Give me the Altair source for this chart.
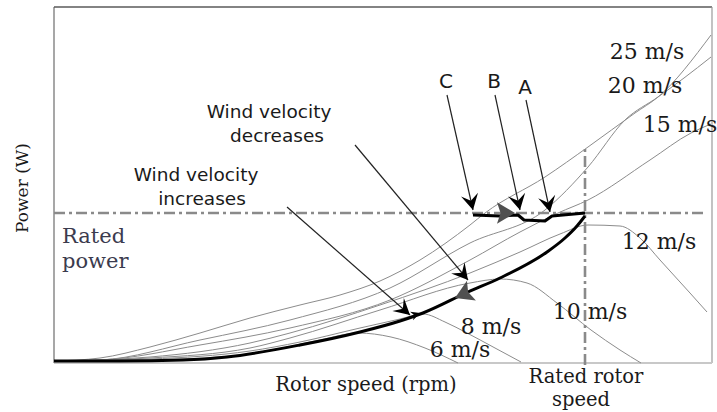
import numpy as np
import pandas as pd
import altair as alt

# Plot area in screen units (1 unit = 1 px), origin at lower-left corner
W, H = 658, 356

# ---- power curves for each wind speed (rotor speed, power) ----
wind_labels = ["25 m/s", "20 m/s", "15 m/s", "12 m/s", "10 m/s", "8 m/s", "6 m/s"]
speed_25 = [0, 46, 96, 146, 196, 246, 286, 326, 366, 416, 431, 491, 534, 581, 604, 657]
power_25 = [2, 5, 16, 30, 45, 58, 68, 82, 103, 138, 150, 186, 216, 250, 266, 328]
speed_20 = [0, 46, 146, 236, 336, 416, 491, 534, 571, 604, 630, 657]
power_20 = [2, 3, 23, 43, 75, 120, 153, 196, 243, 266, 285, 306]
speed_15 = [0, 46, 146, 236, 336, 416, 466, 504, 534, 596, 637, 657]
power_15 = [2, 3, 18, 35, 63, 103, 131, 150, 163, 203, 230, 239]
speed_12 = [0, 96, 196, 236, 326, 416, 466, 506, 534, 566, 586, 606, 636, 653]
power_12 = [2, 6, 20, 30, 58, 90, 111, 129, 138, 137, 125, 103, 70, 51]
speed_10 = [0, 96, 196, 236, 326, 416, 446, 473, 503, 537, 566, 587]
power_10 = [2, 5, 15, 25, 53, 80, 84, 80, 60, 33, 13, 0]
speed_8 = [0, 96, 196, 246, 306, 346, 369, 391, 413, 441, 467]
power_8 = [2, 4, 12, 21, 35, 44, 49, 41, 30, 15, 1]
speed_6 = [0, 96, 196, 266, 304, 337, 371, 404]
power_6 = [2, 3, 9, 23, 30, 26, 15, 0]

# ---- operating path: optimum-power curve and constant-power stretch ----
mppt_speed = [0, 66, 129, 173, 246, 306, 346, 369, 414, 446, 493, 511, 523, 531]
mppt_power = [2, 2, 3, 6, 18, 31, 42, 50, 71, 85, 111, 125, 137, 147]
const_speed = [419, 446, 464, 470, 491, 498, 531]
const_power = [148, 147, 148, 143, 142, 147, 150]

# ---- rated values ----
rated_power = 150
rated_speed = 531

# ---- annotation arrows (start -> tip) ----
arrow_names = ["C", "B", "A", "decreases", "increases"]
arrow_x0 = [393, 441, 472, 301, 233]
arrow_y0 = [268, 268, 263, 218, 156]
arrow_x1 = [419, 466, 496, 414, 356]
arrow_y1 = [153, 153, 151, 83, 48]

# ---- direction markers on the operating path (tip, direction) ----
path_tip_x = [461, 401]
path_tip_y = [150, 65]
path_dx = [1, -77]
path_dy = [0, -35]
small_tip_x = [366]
small_tip_y = [50]
small_dx = [23]
small_dy = [8]

xs = alt.Scale(domain=[0, W], nice=False, zero=False)
ys = alt.Scale(domain=[0, H], nice=False, zero=False)
X = lambda f: alt.X(f"{f}:Q", scale=xs, axis=None)
Y = lambda f: alt.Y(f"{f}:Q", scale=ys, axis=None)


def heading(dx, dy):
    # symbol rotation (deg, clockwise) so that a downward arrowhead points along (dx, dy)
    ang = np.degrees(np.arctan2(-np.asarray(dx, float), -np.asarray(dy, float)))
    return np.mod(ang, 360)


# curves table
curve_sets = [(speed_25, power_25), (speed_20, power_20), (speed_15, power_15),
              (speed_12, power_12), (speed_10, power_10), (speed_8, power_8),
              (speed_6, power_6)]
rows = []
for lab, (sx, py) in zip(wind_labels, curve_sets):
    for i, (a, b) in enumerate(zip(sx, py)):
        rows.append({"wind": lab, "speed": a, "power": b, "i": i})
curves = pd.DataFrame(rows)

thin = alt.Chart(curves).mark_line(color="#8c8c8c", strokeWidth=1, interpolate="monotone").encode(
    x=X("speed"), y=Y("power"), detail="wind:N", order="i:Q")

mppt = alt.Chart(pd.DataFrame({"speed": mppt_speed, "power": mppt_power})).mark_line(
    color="#000", strokeWidth=3, interpolate="monotone").encode(x=X("speed"), y=Y("power"))
const = alt.Chart(pd.DataFrame({"speed": const_speed, "power": const_power})).mark_line(
    color="#000", strokeWidth=3, strokeJoin="round").encode(x=X("speed"), y=Y("power"))

# frame
frame = pd.DataFrame({
    "x": [0, 0, W, 0], "y": [0, H, H, 0],
    "x2": [0, W, W, W], "y2": [H, H, 0, 0],
    "c": ["#8a8a8a", "#5a5a5a", "#9a9a9a", "#c8c8c8"],
    "w": [1.5, 1.5, 1.2, 2.0],
})
frame_layer = alt.Chart(frame).mark_rule().encode(
    x=X("x"), y=Y("y"), x2="x2:Q", y2="y2:Q",
    color=alt.Color("c:N", scale=None), strokeWidth=alt.StrokeWidth("w:Q", scale=None))

# rated power / rated speed guides
guides = pd.DataFrame({"x": [0, rated_speed], "y": [rated_power, -2],
                       "x2": [650, rated_speed], "y2": [rated_power, 217]})
guide_layer = alt.Chart(guides).mark_rule(color="#8a8a8a", strokeWidth=2.6,
                                          strokeDash=[11, 4, 3, 4]).encode(
    x=X("x"), y=Y("y"), x2="x2:Q", y2="y2:Q")

# annotation arrows
arr = pd.DataFrame({"name": arrow_names, "x": arrow_x0, "y": arrow_y0,
                    "x2": arrow_x1, "y2": arrow_y1})
arr["angle"] = heading(np.array(arrow_x1) - np.array(arrow_x0),
                       np.array(arrow_y1) - np.array(arrow_y0))
shafts = alt.Chart(arr).mark_rule(color="#222", strokeWidth=1.2).encode(
    x=X("x"), y=Y("y"), x2="x2:Q", y2="y2:Q")
stealth = "M0,0 L-0.55,-1 L0,-0.6 L0.55,-1 Z"
heads = alt.Chart(arr).mark_point(shape=stealth, filled=True, color="#000", opacity=1,
                                  size=1000).encode(
    x=X("x2"), y=Y("y2"), angle=alt.Angle("angle:Q", scale=None))

pm = pd.DataFrame({"x": path_tip_x, "y": path_tip_y})
pm["angle"] = heading(path_dx, path_dy)
path_marks = alt.Chart(pm).mark_point(shape="M0,0 L-0.6,-1 L0,-0.8 L0.6,-1 Z", filled=True,
                                      color="#505050", opacity=1, size=1300).encode(
    x=X("x"), y=Y("y"), angle=alt.Angle("angle:Q", scale=None))
sm = pd.DataFrame({"x": small_tip_x, "y": small_tip_y})
sm["angle"] = heading(small_dx, small_dy)
small_mark = alt.Chart(sm).mark_point(shape="M0,0 L-0.5,-1 L0,-0.7 L0.5,-1 Z", filled=True,
                                      color="#000", opacity=1, size=320).encode(
    x=X("x"), y=Y("y"), angle=alt.Angle("angle:Q", scale=None))


def text_layer(labels, xv, yv, font, size, align="center", angle=0, color="#1a1a1a"):
    df = pd.DataFrame({"label": labels, "x": xv, "y": yv})
    return alt.Chart(df).mark_text(font=font, fontSize=size, align=align, baseline="middle",
                                   angle=angle, color=color).encode(
        x=X("x"), y=Y("y"), text="label:N")


serif = "DejaVu Serif"
sans = "DejaVu Sans"

speed_text = text_layer(wind_labels,
                        [593, 591, 626, 605, 536, 437, 406],
                        [311, 277, 238, 121, 51, 36, 13], serif, 22)
letters = text_layer(["C", "B", "A"], [392, 440, 471], [281, 281, 275], sans, 20)
notes = text_layer(["Wind velocity", "decreases", "Wind velocity", "increases"],
                   [215, 223, 142, 148], [251, 227, 188, 164], sans, 18.5)
rated_txt = text_layer(["Rated", "power"], [8, 8], [126, 101], serif, 21,
                       align="left", color="#3b3b4e")
x_title = text_layer(["Rotor speed (rpm)", "Rated rotor", "speed"],
                     [312, 532, 527], [-22, -14, -37], serif, 19.5)
y_title = text_layer(["Power (W)"], [-31], [175], serif, 17, angle=270)

chart = alt.layer(
    frame_layer, thin, guide_layer, mppt, const, shafts, heads, path_marks, small_mark,
    speed_text, letters, notes, rated_txt, x_title, y_title,
).properties(
    width=W, height=H,
    padding={"left": 54, "top": 7, "right": 5, "bottom": 49},
    autosize=alt.AutoSizeParams(type="none"),
    background="white",
).configure_view(stroke=None)

chart.save("out.html", embed_options={"renderer": "svg", "actions": False})
